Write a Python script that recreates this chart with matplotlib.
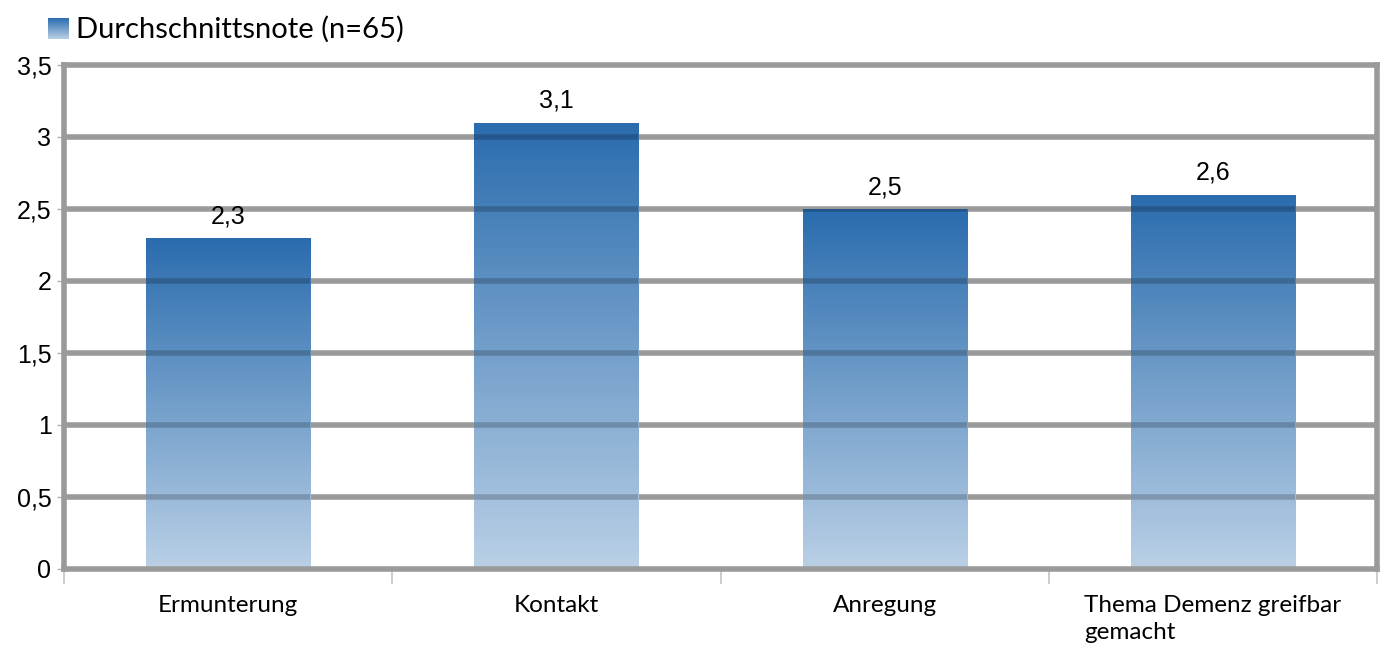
import numpy as np
import matplotlib
matplotlib.use("Agg")
import matplotlib.pyplot as plt

# Durchschnittsnoten je Kategorie
categories = ["Ermunterung", "Kontakt", "Anregung", "Thema Demenz greifbar\ngemacht"]
values = [2.3, 3.1, 2.5, 2.6]
value_labels = ["2,3", "3,1", "2,5", "2,6"]
y_ticks = [0, 0.5, 1, 1.5, 2, 2.5, 3, 3.5]
y_tick_labels = ["0", "0,5", "1", "1,5", "2", "2,5", "3", "3,5"]
legend_label = "Durchschnittsnote (n=65)"

top_col = np.array([42, 108, 174]) / 255
bottom_col = np.array([186, 208, 230]) / 255
grid_col = "#9a9a9a"


def gradient(n=256):
    t = np.linspace(0, 1, n)[:, None]
    rgb = top_col * (1 - t) + bottom_col * t
    return rgb[:, None, :]


fig = plt.figure(figsize=(13.83, 6.48), dpi=100)
ax = fig.add_axes([64 / 1383, 79 / 648, 1313 / 1383, 504 / 648])

x = np.arange(len(categories))
bars = ax.bar(x, values, width=0.5, facecolor="none", edgecolor="none", zorder=1)

# gradient fill for each bar, plus a darker band where the grid passes behind
for bar in bars:
    x0, w, h = bar.get_x(), bar.get_width(), bar.get_height()
    img = ax.imshow(gradient(), extent=(x0, x0 + w, 0, h), aspect="auto",
                    zorder=1, interpolation="bilinear")
    img.set_clip_path(bar)
    for yt in y_ticks[1:-1]:
        ln = ax.axhline(yt, color="black", alpha=0.2, lw=4, zorder=2)
        ln.set_clip_path(bar)

for yt in y_ticks[1:-1]:
    ax.axhline(yt, color=grid_col, lw=4, zorder=0.5)

for xi, v, lab in zip(x, values, value_labels):
    ax.annotate(lab, (xi, v), xytext=(0, 7), textcoords="offset points",
                ha="center", va="bottom", fontsize=18, family="Liberation Sans")

ax.set_xlim(-0.5, len(categories) - 0.5)
ax.set_ylim(0, 3.5)
ax.set_yticks(y_ticks)
ax.set_yticklabels(y_tick_labels, fontsize=18, family="Liberation Sans")
ax.tick_params(axis="y", length=5, width=1, color="#b0b0b0", pad=4)

ax.set_xticks(x)
ax.set_xticklabels(categories, fontsize=17.5, family="Lato", multialignment="left",
                   linespacing=1.35)
ax.tick_params(axis="x", length=0, pad=19)
ax.set_xticks(np.arange(-0.5, len(categories)), minor=True)
ax.tick_params(axis="x", which="minor", length=11, width=1.2, color="#c4c4c4")

for s in ax.spines.values():
    s.set_color(grid_col)
    s.set_linewidth(4)
    s.set_zorder(3)

# legend: small gradient square and label
lax = fig.add_axes([48 / 1383, (648 - 39) / 648, 21 / 1383, 21 / 648])
lax.imshow(gradient(), aspect="auto", extent=(0, 1, 0, 1))
lax.set_axis_off()
fig.text(76 / 1383, (648 - 29) / 648, legend_label, fontsize=21, family="Lato",
         va="center", ha="left")

fig.savefig("out.png", dpi=100)
